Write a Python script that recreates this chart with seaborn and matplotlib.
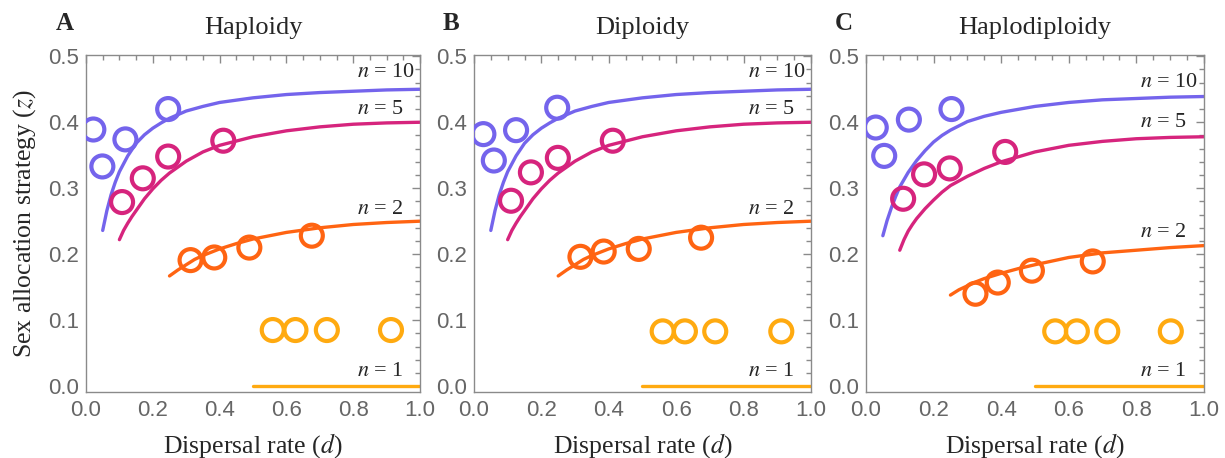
"""Sex allocation vs dispersal rate: three panels (haploidy, diploidy, haplodiploidy)."""

import matplotlib
matplotlib.use("Agg")

import matplotlib.pyplot as plt
from matplotlib.ticker import MultipleLocator, FormatStrFormatter
import seaborn as sns

# --- data -------------------------------------------------------------------

# analytical curves, haploidy (diploidy curves look identical)
d_hap_n10 = [0.05, 0.0625, 0.075, 0.0875, 0.10, 0.125, 0.15, 0.175, 0.20, 0.225, 0.25,
             0.30, 0.35, 0.40, 0.50, 0.60, 0.70, 0.80, 0.90, 1.00]
z_hap_n10 = [0.236, 0.266, 0.290, 0.309, 0.325, 0.349, 0.368, 0.381, 0.391, 0.399, 0.406,
             0.417, 0.424, 0.430, 0.437, 0.442, 0.445, 0.447, 0.449, 0.450]
d_hap_n5 = [0.10, 0.1125, 0.125, 0.1375, 0.15, 0.175, 0.20, 0.225, 0.25, 0.30, 0.35,
            0.40, 0.50, 0.60, 0.70, 0.80, 0.90, 1.00]
z_hap_n5 = [0.222, 0.236, 0.247, 0.257, 0.266, 0.284, 0.299, 0.312, 0.323, 0.341, 0.355,
            0.365, 0.378, 0.387, 0.393, 0.397, 0.399, 0.400]
d_hap_n2 = [0.25, 0.275, 0.30, 0.325, 0.35, 0.40, 0.45, 0.50, 0.60, 0.70, 0.80, 0.90, 1.00]
z_hap_n2 = [0.167, 0.176, 0.184, 0.192, 0.198, 0.208, 0.216, 0.223, 0.233, 0.240, 0.245,
            0.248, 0.250]
d_n1 = [0.50, 1.00]
z_n1 = [0.0, 0.0]

# analytical curves, haplodiploidy
d_hd_n10 = [0.05, 0.0625, 0.075, 0.0875, 0.10, 0.125, 0.15, 0.175, 0.20, 0.225, 0.25,
            0.30, 0.35, 0.40, 0.50, 0.60, 0.70, 0.80, 0.90, 1.00]
z_hd_n10 = [0.228, 0.251, 0.270, 0.287, 0.302, 0.324, 0.342, 0.357, 0.370, 0.380, 0.388,
            0.401, 0.409, 0.415, 0.424, 0.430, 0.434, 0.436, 0.438, 0.439]
d_hd_n5 = [0.10, 0.1125, 0.125, 0.1375, 0.15, 0.175, 0.20, 0.225, 0.25, 0.30, 0.35,
           0.40, 0.50, 0.60, 0.70, 0.80, 0.90, 1.00]
z_hd_n5 = [0.206, 0.222, 0.235, 0.245, 0.254, 0.269, 0.282, 0.294, 0.304, 0.318, 0.330,
           0.340, 0.355, 0.365, 0.371, 0.375, 0.377, 0.378]
d_hd_n2 = [0.25, 0.275, 0.30, 0.325, 0.35, 0.40, 0.45, 0.50, 0.60, 0.70, 0.80, 0.90, 1.00]
z_hd_n2 = [0.138, 0.146, 0.152, 0.158, 0.163, 0.171, 0.178, 0.184, 0.195, 0.202, 0.206,
           0.210, 0.213]

# simulation points (open circles)
a_x_n10 = [0.022, 0.049, 0.118, 0.246]
a_y_n10 = [0.389, 0.333, 0.374, 0.420]
a_x_n5 = [0.108, 0.170, 0.246, 0.411]
a_y_n5 = [0.279, 0.315, 0.348, 0.372]
a_x_n2 = [0.313, 0.384, 0.489, 0.676]
a_y_n2 = [0.191, 0.195, 0.210, 0.228]
a_x_n1 = [0.559, 0.627, 0.721, 0.913]
a_y_n1 = [0.085, 0.085, 0.085, 0.085]

b_x_n10 = [0.028, 0.059, 0.125, 0.247]
b_y_n10 = [0.382, 0.342, 0.388, 0.422]
b_x_n5 = [0.110, 0.169, 0.249, 0.412]
b_y_n5 = [0.281, 0.324, 0.346, 0.372]
b_x_n2 = [0.316, 0.385, 0.489, 0.674]
b_y_n2 = [0.196, 0.204, 0.208, 0.225]
b_x_n1 = [0.560, 0.626, 0.716, 0.912]
b_y_n1 = [0.083, 0.083, 0.083, 0.083]

c_x_n10 = [0.029, 0.054, 0.127, 0.253]
c_y_n10 = [0.392, 0.349, 0.404, 0.420]
c_x_n5 = [0.110, 0.172, 0.248, 0.412]
c_y_n5 = [0.284, 0.321, 0.330, 0.355]
c_x_n2 = [0.324, 0.390, 0.491, 0.671]
c_y_n2 = [0.140, 0.157, 0.175, 0.189]
c_x_n1 = [0.560, 0.624, 0.714, 0.902]
c_y_n1 = [0.083, 0.083, 0.083, 0.083]

panel_letters = ["A", "B", "C"]
panel_titles = ["Haploidy", "Diploidy", "Haplodiploidy"]
n_labels = ["10", "5", "2", "1"]

# --- style -------------------------------------------------------------------

COLORS = ["#7464EC", "#D6247D", "#FF6412", "#FFAA10"]
FRAME = "#8a8a8a"
TICKLAB = "#666666"

sns.set_style("white")
plt.rcParams["font.family"] = ["Liberation Serif", "DejaVu Serif"]
plt.rcParams["mathtext.fontset"] = "stix"

fig = plt.figure(figsize=(12.25, 4.58), dpi=100)

axes_rects = [
    [0.0702, 0.144, 0.2727, 0.736],
    [0.3869, 0.144, 0.2751, 0.736],
    [0.7069, 0.144, 0.2759, 0.736],
]

curves = [
    [(d_hap_n10, z_hap_n10), (d_hap_n5, z_hap_n5), (d_hap_n2, z_hap_n2), (d_n1, z_n1)],
    [(d_hap_n10, z_hap_n10), (d_hap_n5, z_hap_n5), (d_hap_n2, z_hap_n2), (d_n1, z_n1)],
    [(d_hd_n10, z_hd_n10), (d_hd_n5, z_hd_n5), (d_hd_n2, z_hd_n2), (d_n1, z_n1)],
]
points = [
    [(a_x_n10, a_y_n10), (a_x_n5, a_y_n5), (a_x_n2, a_y_n2), (a_x_n1, a_y_n1)],
    [(b_x_n10, b_y_n10), (b_x_n5, b_y_n5), (b_x_n2, b_y_n2), (b_x_n1, b_y_n1)],
    [(c_x_n10, c_y_n10), (c_x_n5, c_y_n5), (c_x_n2, c_y_n2), (c_x_n1, c_y_n1)],
]
# vertical positions of the "n = .." labels per panel
label_y = [
    [0.475, 0.420, 0.267, 0.022],
    [0.475, 0.420, 0.267, 0.022],
    [0.460, 0.400, 0.233, 0.022],
]

for i, rect in enumerate(axes_rects):
    ax = fig.add_axes(rect)

    for (dx, zy), color in zip(curves[i], COLORS):
        sns.lineplot(x=dx, y=zy, ax=ax, color=color, linewidth=2.4,
                     sort=False, estimator=None)
    for (px, py), color in zip(points[i], COLORS):
        sns.scatterplot(x=px, y=py, ax=ax, s=250, facecolor="none",
                        edgecolor=color, linewidth=3.0, zorder=3)

    for lab, yy in zip(n_labels, label_y[i]):
        ax.text(0.812, yy, r"$n$ = " + lab, fontsize=16, va="center", ha="left")

    ax.set_xlim(0, 1)
    ax.set_ylim(-0.009, 0.502)
    ax.xaxis.set_major_locator(MultipleLocator(0.2))
    ax.xaxis.set_minor_locator(MultipleLocator(0.05))
    ax.yaxis.set_major_locator(MultipleLocator(0.1))
    ax.yaxis.set_minor_locator(MultipleLocator(0.02))
    ax.xaxis.set_major_formatter(FormatStrFormatter("%.1f"))
    ax.yaxis.set_major_formatter(FormatStrFormatter("%.1f"))

    ax.tick_params(which="both", direction="in", top=True, right=True,
                   color=FRAME, width=1.0)
    ax.tick_params(which="major", length=6, labelsize=16, labelcolor=TICKLAB)
    ax.tick_params(which="minor", length=3.5)
    ax.tick_params(axis="x", which="major", pad=6)
    ax.tick_params(axis="y", which="major", pad=5)
    for lbl in ax.get_xticklabels() + ax.get_yticklabels():
        lbl.set_family(["Liberation Sans", "DejaVu Sans"])
    for sp in ax.spines.values():
        sp.set_color(FRAME)
        sp.set_linewidth(1.0)

    ax.set_xlabel(r"Dispersal rate ($d$)", fontsize=18.5, labelpad=7)
    if i == 0:
        ax.set_ylabel(r"Sex allocation strategy ($z$)", fontsize=18.5)
        ax.yaxis.set_label_coords(-0.145, 0.5)
    else:
        ax.set_ylabel("")

    ax.set_title(panel_titles[i], fontsize=19, pad=15)
    ax.text(-0.092, 1.06, panel_letters[i], transform=ax.transAxes,
            fontsize=18, fontweight="bold", ha="left", va="bottom")

fig.savefig("out.png", dpi=100)
plt.close(fig)
